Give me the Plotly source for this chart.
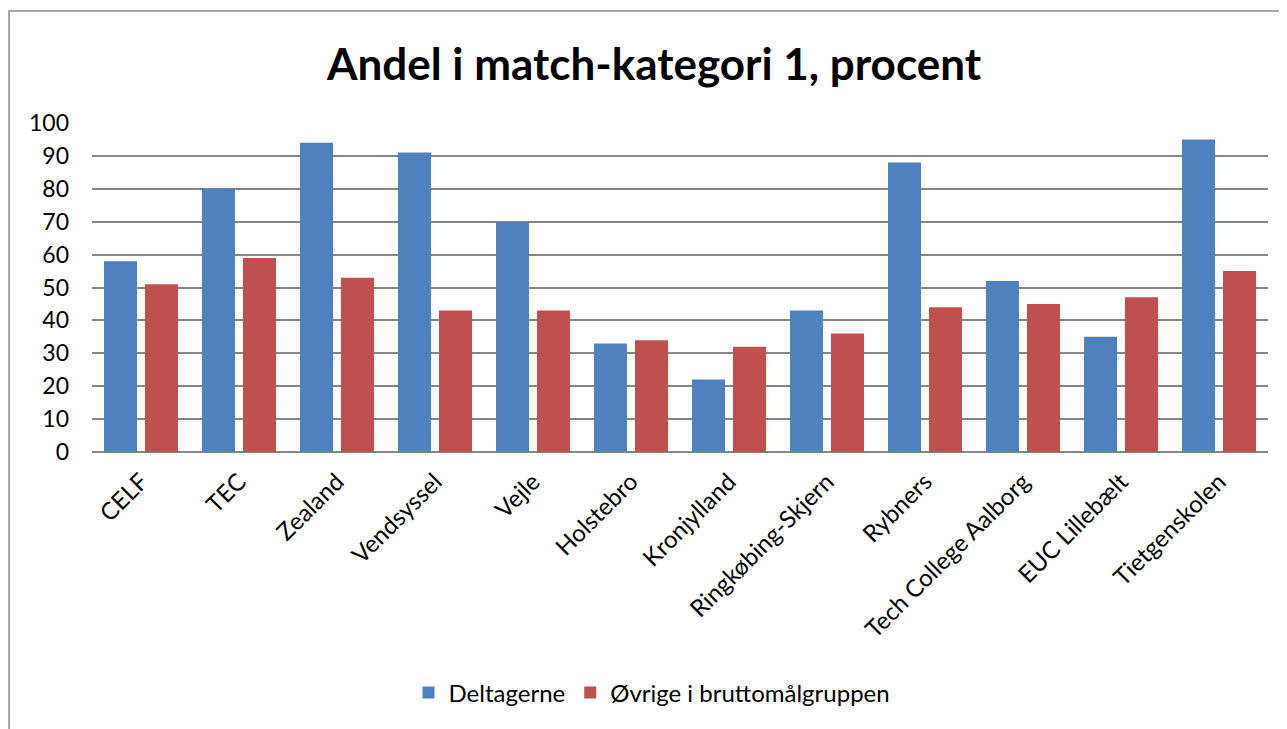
import plotly.graph_objects as go

categories = ["CELF", "TEC", "Zealand", "Vendsyssel", "Vejle", "Holstebro", "Kronjylland",
              "Ringkøbing-Skjern", "Rybners", "Tech College Aalborg", "EUC Lillebælt", "Tietgenskolen"]
deltagerne = [58, 80, 94, 91, 70, 33, 22, 43, 88, 52, 35, 95]
ovrige = [51, 59, 53, 43, 43, 34, 32, 36, 44, 45, 47, 55]
y_ticks = [0, 10, 20, 30, 40, 50, 60, 70, 80, 90, 100]

W, H = 1287, 729
OFF = 8  # page body margin
# target plot area in window pixels
PX0, PX1, PY0, PY1 = 92, 1268, 123, 452
L = PX0 - OFF
T = PY0 - OFF
R = W + OFF - PX1
B = H + OFF - PY1
pw = PX1 - PX0
ph = PY1 - PY0
FONT = "Lato, Open Sans, sans-serif"


def px_x(x):
    return (x - PX0) / pw


def px_y(y):
    return (PY1 - y) / ph


fig = go.Figure()
fig.add_trace(go.Bar(x=categories, y=deltagerne, name="Deltagerne",
                     marker=dict(color="#4F81BD", line=dict(width=0))))
fig.add_trace(go.Bar(x=categories, y=ovrige, name="Øvrige i bruttomålgruppen",
                     marker=dict(color="#C0504D", line=dict(width=0))))

fig.add_shape(type="rect", xref="paper", yref="paper",
              x0=px_x(9), x1=px_x(W + 30), y0=px_y(H + 30), y1=px_y(11),
              line=dict(color="#8C8C8C", width=1.5), fillcolor="rgba(0,0,0,0)", layer="below")

fig.update_layout(
    width=W, height=H,
    margin=dict(l=L, r=R, t=T, b=B),
    paper_bgcolor="white", plot_bgcolor="white",
    barmode="group", bargap=0.163, bargroupgap=0.195,
    title=dict(text="<b>Andel i match-kategori 1, procent</b>", x=px_x(654), xref="paper",
               xanchor="center", y=1 - (65 - OFF) / H, yanchor="middle",
               font=dict(family=FONT, size=44, color="black")),
    font=dict(family=FONT, size=23, color="black"),
    legend=dict(orientation="h", x=px_x(652), xanchor="center",
                y=px_y(693), yanchor="middle",
                font=dict(size=24), itemwidth=30, traceorder="normal"),
    xaxis=dict(tickangle=-45, showgrid=False, showline=False, ticks="",
               tickfont=dict(size=24), ticklabelstandoff=10),
    yaxis=dict(range=[0, 100], tickvals=y_ticks, showgrid=True, gridcolor="#868686",
               gridwidth=1.5, zeroline=True, zerolinecolor="#868686", zerolinewidth=1.5,
               showline=False, ticks="", tickfont=dict(size=23), ticklabelstandoff=22),
)

fig.write_html("out.html")
